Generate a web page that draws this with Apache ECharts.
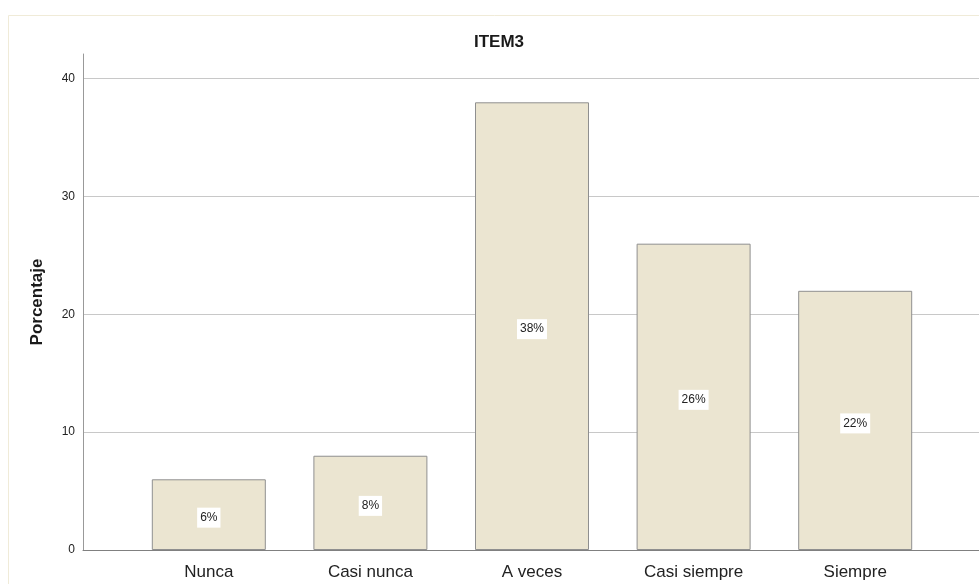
<!DOCTYPE html>
<html>
<head>
<meta charset="utf-8">
<script src="https://cdn.jsdelivr.net/npm/echarts@6/dist/echarts.min.js"></script>
<style>
  html, body { margin: 0; padding: 0; background: #ffffff; }
  #chart { width: 979px; height: 584px; }
</style>
</head>
<body>
<div id="chart"></div>
<script>
// Response categories and their percentages
const categories = ['Nunca', 'Casi nunca', 'A veces', 'Casi siempre', 'Siempre'];
const percentages = [6, 8, 38, 26, 22];
// Value-axis ticks
const yTicks = [0, 10, 20, 30, 40];
const yMax = 42.1;

const FONT = '"Liberation Sans", Arial, sans-serif';

const chart = echarts.init(document.getElementById('chart'), null, { renderer: 'canvas' });

chart.setOption({
  animation: false,
  backgroundColor: '#ffffff',
  title: {
    text: 'ITEM3',
    left: 494,
    top: 29,
    textAlign: 'center',
    textStyle: { fontFamily: FONT, fontSize: 17, fontWeight: 'bold', color: '#1a1a1a' }
  },
  graphic: [{
    type: 'rect',
    silent: true,
    shape: { x: 8.5, y: 15.5, width: 1000, height: 600 },
    style: { fill: 'none', stroke: '#f0ebd8', lineWidth: 1 }
  }],
  grid: [
    // frame grid: y axis, gridlines and the baseline across the full width
    { left: 83, right: 0, top: 54, bottom: 34 },
    // bar grid: categories spaced inside the frame
    { left: 128, right: 43, top: 54, bottom: 34 }
  ],
  xAxis: [
    {
      gridIndex: 0, type: 'value', min: 0, max: 1,
      axisLine: { show: true, lineStyle: { color: '#808080', width: 1 } },
      axisTick: { show: false }, axisLabel: { show: false }, splitLine: { show: false }
    },
    {
      gridIndex: 1, type: 'category', data: categories,
      axisLine: { show: false }, axisTick: { show: false },
      axisLabel: { fontFamily: FONT, fontSize: 17, color: '#222222', margin: 14 }
    }
  ],
  yAxis: [
    {
      gridIndex: 0, type: 'value', min: yTicks[0], max: yMax, interval: 10,
      name: 'Porcentaje', nameLocation: 'middle', nameGap: 37, nameRotate: 90,
      nameTextStyle: { fontFamily: FONT, fontSize: 17, fontWeight: 'bold', color: '#1a1a1a' },
      axisLine: { show: true, lineStyle: { color: '#999999', width: 1 } },
      axisTick: { show: false },
      axisLabel: {
        fontFamily: FONT, fontSize: 12, color: '#222222', margin: 8, showMaxLabel: false,
        formatter: v => (yTicks.indexOf(v) >= 0 ? String(v) : '')
      },
      splitLine: { show: true, showMaxLine: false, lineStyle: { color: '#c8c8c8', width: 1 } }
    },
    {
      gridIndex: 1, type: 'value', min: yTicks[0], max: yMax, show: false,
      splitLine: { show: false }
    }
  ],
  series: [{
    type: 'bar',
    xAxisIndex: 1,
    yAxisIndex: 1,
    data: percentages,
    barWidth: 114,
    itemStyle: { color: '#ebe5d1', borderColor: '#8f8f8f', borderWidth: 1 },
    label: {
      show: true,
      position: 'inside',
      offset: [0, 3],
      formatter: p => p.value + '%',
      fontFamily: FONT,
      fontSize: 12,
      color: '#222222',
      backgroundColor: '#ffffff',
      padding: [4, 3, 4, 3]
    }
  }]
});
</script>
</body>
</html>
